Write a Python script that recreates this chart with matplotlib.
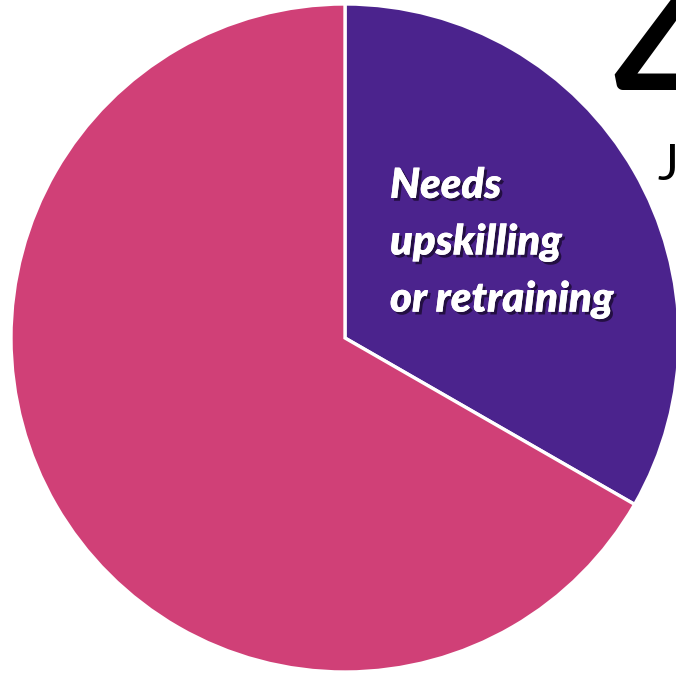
import matplotlib.pyplot as plt
import matplotlib.patheffects as pe

## Data
labels = ["Needs\nupskilling\nor retraining", "Other"]
shares = [33.3, 66.7]
colors = ["#4B238D", "#D04077"]

## Figure: one axes covering the whole canvas, pixel-like data coords
fig = plt.figure(figsize=(6.76, 6.74), dpi=100)
ax = fig.add_axes([0, 0, 1, 1])

# pie, purple slice starting at 12 o'clock going clockwise
ax.pie(
    shares,
    colors=colors,
    startangle=90,
    counterclock=False,
    center=(345, 336),
    radius=334,
    wedgeprops={"edgecolor": "white", "linewidth": 2.4},
    frame=True,
)
ax.set_xlim(0, 676)
ax.set_ylim(0, 674)
ax.set_aspect("equal")
ax.axis("off")

# label inside the purple slice, white bold italic with a drop shadow
shadow = [pe.withSimplePatchShadow(offset=(2, -2), shadow_rgbFace="#1a0a30", alpha=0.8), pe.Normal()]
ax.text(
    390, 507, labels[0],
    color="white", fontsize=30, fontweight="heavy", fontstyle="italic",
    family=["Lato", "DejaVu Sans"], ha="left", va="top", linespacing=1.6,
    path_effects=shadow,
)

# clipped heading text from the neighbouring slide content
fig.text(0.905, 0.80, "4", fontsize=170, color="black", family=["Lato", "DejaVu Sans"],
         fontweight="normal", ha="left", va="baseline")
fig.text(0.972, 0.733, "J", fontsize=36, color="black", family=["Lato", "DejaVu Sans"],
         ha="left", va="baseline")

fig.savefig("out.png", dpi=100)
